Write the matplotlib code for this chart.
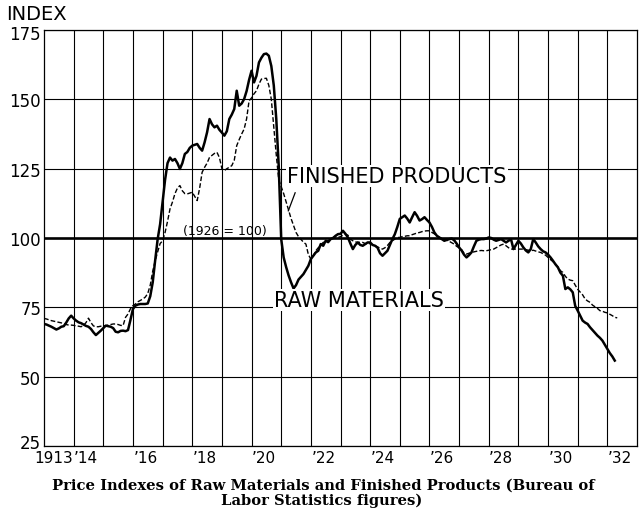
import numpy as np
import matplotlib
matplotlib.use("Agg")
import matplotlib.pyplot as plt
from matplotlib.transforms import ScaledTranslation

# ---- data (monthly, starting January 1913) ----
start_year = 1913
raw_materials = [
    # 1913
    69.0, 68.8, 68.4, 68.0, 67.5, 67.0, 67.4, 68.0, 68.2, 69.5, 71.0, 72.0,
    # 1914
    71.0, 70.2, 69.6, 69.3, 68.8, 68.3, 68.0, 67.2, 66.0, 65.0, 65.8, 66.6,
    # 1915
    67.5, 68.4, 68.2, 68.0, 67.5, 66.2, 66.0, 66.5, 66.6, 66.4, 66.8, 70.5,
    # 1916
    74.4, 75.6, 76.0, 76.2, 76.2, 76.2, 76.4, 79.0, 84.0, 92.0, 99.6, 105.0,
    # 1917
    113.0, 121.0, 127.0, 129.0, 127.9, 128.5, 127.0, 124.9, 127.0, 130.3, 131.0, 132.5,
    # 1918
    133.3, 133.6, 133.9, 132.5, 131.5, 134.5, 138.1, 142.9, 141.0, 139.9, 140.5, 139.0,
    # 1919
    138.0, 136.9, 138.5, 142.9, 144.5, 146.5, 153.1, 147.7, 148.5, 150.1, 153.0, 157.0,
    # 1920
    160.3, 156.1, 158.5, 163.3, 165.0, 166.3, 166.5, 165.7, 162.0, 155.0, 143.0, 126.0,
    # 1921
    99.6, 93.0, 89.5, 86.5, 84.0, 81.8, 83.0, 85.0, 86.0, 87.0, 88.5, 90.0,
    # 1922
    92.4, 93.6, 94.8, 95.4, 97.8, 97.2, 99.0, 98.5, 99.6, 100.0, 100.8, 101.4,
    # 1923
    101.5, 102.6, 101.5, 100.2, 98.0, 96.0, 97.5, 98.4, 97.5, 97.2, 97.8, 98.4,
    # 1924
    98.4, 97.5, 97.2, 96.5, 94.5, 93.6, 94.5, 95.4, 97.5, 99.6, 101.4, 104.0,
    # 1925
    106.9, 107.5, 108.1, 107.0, 105.6, 107.5, 109.3, 108.0, 106.3, 106.8, 107.5, 106.5,
    # 1926
    105.6, 104.0, 102.0, 100.8, 100.2, 99.6, 99.0, 99.3, 99.6, 99.8, 99.2, 98.0,
    # 1927
    96.6, 95.5, 94.0, 93.0, 93.8, 94.8, 97.0, 99.0, 99.4, 99.6, 99.6, 99.8,
    # 1928
    100.2, 100.0, 99.4, 99.0, 99.3, 99.6, 99.0, 98.4, 99.0, 99.6, 96.0, 97.5,
    # 1929
    99.0, 98.0, 96.6, 95.5, 94.8, 96.0, 99.6, 98.4, 97.0, 96.0, 95.2, 94.8,
    # 1930
    94.0, 93.0, 91.8, 90.5, 89.4, 87.5, 86.4, 81.6, 82.2, 81.5, 80.4, 75.5,
    # 1931
    73.8, 72.0, 70.2, 69.5, 69.0, 67.8, 66.8, 65.8, 64.8, 64.0, 63.0, 61.5,
    # 1932
    60.0, 58.5, 57.3, 55.8,
]
finished_products = [
    # 1913
    71.0, 70.8, 70.5, 70.2, 70.0, 69.8, 69.6, 69.4, 69.0, 68.8, 68.6, 68.6,
    # 1914
    68.5, 68.3, 68.2, 68.0, 68.5, 69.5, 71.1, 69.5, 68.3, 68.0, 68.0, 68.2,
    # 1915
    68.3, 68.4, 68.6, 68.8, 69.0, 69.0, 68.8, 68.5, 68.4, 71.4, 72.6, 74.5,
    # 1916
    75.6, 76.2, 77.0, 77.5, 78.0, 78.7, 80.0, 83.0, 88.0, 91.8, 95.0, 98.0,
    # 1917
    99.0, 102.0, 106.0, 110.5, 113.0, 116.0, 118.0, 118.9, 117.0, 116.0, 115.9, 116.2,
    # 1918
    116.5, 115.0, 113.5, 118.0, 123.7, 125.5, 127.0, 129.1, 129.8, 130.5, 130.9, 129.0,
    # 1919
    125.0, 124.3, 125.0, 125.5, 126.1, 128.0, 133.3, 135.5, 137.5, 139.3, 143.0, 149.5,
    # 1920
    150.5, 152.0, 153.1, 155.5, 157.3, 157.5, 157.6, 155.0, 150.0, 140.0, 130.0, 121.0,
    # 1921
    118.5, 116.0, 113.0, 110.0, 107.0, 104.5, 102.0, 100.5, 99.5, 98.5, 97.8, 94.0,
    # 1922
    92.4, 93.5, 95.4, 96.5, 97.5, 98.4, 99.0, 99.0, 99.5, 100.2, 100.5, 100.2,
    # 1923
    100.5, 101.0, 101.4, 101.0, 99.6, 99.0, 98.6, 98.4, 98.5, 98.4, 98.0, 97.8,
    # 1924
    98.0, 97.5, 97.2, 96.8, 96.3, 96.0, 96.5, 97.3, 98.4, 99.0, 99.6, 100.2,
    # 1925
    100.2, 100.5, 100.6, 100.8, 100.8, 101.2, 101.5, 101.8, 102.0, 102.3, 102.5, 102.6,
    # 1926
    102.6, 102.0, 101.5, 100.8, 100.2, 99.9, 99.6, 99.2, 98.8, 98.3, 97.8, 97.0,
    # 1927
    96.5, 95.8, 94.5, 94.2, 94.5, 94.8, 95.0, 95.2, 95.4, 95.5, 95.4, 95.4,
    # 1928
    95.6, 95.8, 96.0, 96.5, 97.0, 97.5, 97.8, 97.2, 96.5, 96.0, 96.0, 96.0,
    # 1929
    96.0, 96.0, 96.0, 95.8, 95.6, 95.4, 95.6, 95.3, 95.0, 94.8, 94.3, 93.8,
    # 1930
    93.0, 92.2, 91.5, 90.6, 89.5, 88.2, 87.6, 86.2, 85.2, 84.8, 84.6, 83.0,
    # 1931
    81.5, 80.5, 79.5, 78.0, 77.3, 76.8, 75.8, 75.2, 74.6, 73.8, 73.6, 73.2,
    # 1932
    73.0, 72.5, 72.0, 71.4, 71.2,
]
year_ticks = [1913, 1914, 1916, 1918, 1920, 1922, 1924, 1926, 1928, 1930, 1932]
year_labels = ["1913", "\u201914", "\u201916", "\u201918", "\u201920", "\u201922",
               "\u201924", "\u201926", "\u201928", "\u201930", "\u201932"]
y_ticks = [25, 50, 75, 100, 125, 150, 175]
base_value = 100

raw_x = start_year + np.arange(len(raw_materials)) / 12.0
fin_x = start_year + np.arange(len(finished_products)) / 12.0

fig = plt.figure(figsize=(6.39, 5.10), dpi=100)
ax = fig.add_axes([44 / 639, 1 - 447 / 510, 593 / 639, 416 / 510])

ax.set_xlim(1913, 1933)
ax.set_ylim(25, 175)

# grid
for yr in range(1914, 1933):
    ax.axvline(yr, color="black", lw=0.8, zorder=1)
for v in y_ticks:
    if v == base_value:
        ax.axhline(v, color="black", lw=1.9, zorder=2)
    else:
        ax.axhline(v, color="black", lw=0.8, zorder=1)

for s in ax.spines.values():
    s.set_linewidth(0.9)
    s.set_color("black")

ax.plot(fin_x, finished_products, color="black", lw=1.0,
        linestyle=(0, (3.4, 1.6)), zorder=3)
ax.plot(raw_x, raw_materials, color="black", lw=1.8, zorder=4,
        solid_joinstyle="round")

ax.set_yticks(y_ticks)
ax.set_yticklabels([str(v) for v in y_ticks], fontsize=12)
ax.set_xticks([y + 0.42 if y != 1913 else 1913.33 for y in year_ticks])
ax.set_xticklabels(year_labels, fontsize=11)
ax.tick_params(axis="both", length=0)
ax.tick_params(axis="y", pad=2)
ax.tick_params(axis="x", pad=3)

# nudge the end labels like the reference
ylabels = ax.get_yticklabels()
ylabels[0].set_transform(ylabels[0].get_transform()
                         + ScaledTranslation(0, 5 / 100, fig.dpi_scale_trans))
ylabels[-1].set_transform(ylabels[-1].get_transform()
                          + ScaledTranslation(0, -2 / 100, fig.dpi_scale_trans))

# annotations
box = dict(facecolor="white", edgecolor="none", pad=0.8)
ax.text(1921.2, 122.5, "FINISHED PRODUCTS", fontsize=15, ha="left",
        va="center", bbox=box, zorder=5)
ax.plot([1921.47, 1921.24], [116.3, 109.8], color="black", lw=0.9, zorder=5)
ax.text(1920.75, 77.5, "RAW MATERIALS", fontsize=15, ha="left",
        va="center", bbox=box, zorder=5)
ax.text(1917.7, 102.6, "(1926 = 100)", fontsize=9, ha="left", va="center",
        zorder=5)

fig.text(6 / 639, 1 - 15 / 510, "INDEX", fontsize=14, ha="left", va="center")

fig.text(0.506, 1 - 490 / 510,
         "Price Indexes of Raw Materials and Finished Products (Bureau of",
         fontsize=10.6, family="DejaVu Serif", weight="bold",
         ha="center", va="baseline")
fig.text(0.503, 1 - 505 / 510, "Labor Statistics figures)",
         fontsize=10.6, family="DejaVu Serif", weight="bold",
         ha="center", va="baseline")

fig.savefig("out.png", dpi=100)
